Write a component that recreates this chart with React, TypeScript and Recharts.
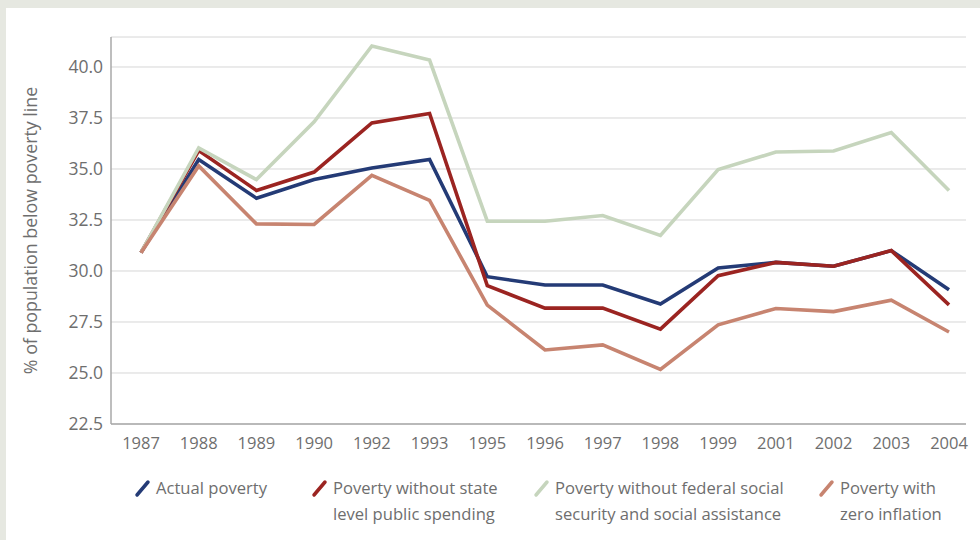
import React from 'react';
import { LineChart, Line, XAxis, YAxis, CartesianGrid, Legend } from 'recharts';

const years = ['1987', '1988', '1989', '1990', '1992', '1993', '1995', '1996', '1997', '1998', '1999', '2001', '2002', '2003', '2004'];
const actualPoverty = [30.9, 35.46, 33.57, 34.48, 35.05, 35.47, 29.72, 29.31, 29.31, 28.38, 30.15, 30.42, 30.23, 31.0, 29.08];
const noStateSpending = [30.9, 35.9, 33.95, 34.85, 37.26, 37.72, 29.28, 28.18, 28.18, 27.15, 29.77, 30.42, 30.23, 31.0, 28.34];
const noFederalSupport = [30.9, 36.03, 34.48, 37.31, 41.03, 40.34, 32.44, 32.44, 32.72, 31.74, 34.97, 35.83, 35.88, 36.79, 33.95];
const zeroInflation = [30.9, 35.15, 32.31, 32.28, 34.69, 33.46, 28.33, 26.13, 26.38, 25.18, 27.36, 28.16, 28.01, 28.57, 27.01];
const yTicks = [22.5, 25, 27.5, 30, 32.5, 35, 37.5, 40];

const series = [
  { key: 'actual', color: '#243b76', lines: ['Actual poverty'] },
  { key: 'state', color: '#9b2421', lines: ['Poverty without state', 'level public spending'] },
  { key: 'federal', color: '#c6d5bd', lines: ['Poverty without federal social', 'security and social assistance'] },
  { key: 'zero', color: '#c78470', lines: ['Poverty with', 'zero inflation'] },
];

const data = years.map((year, i) => ({
  year,
  actual: actualPoverty[i],
  state: noStateSpending[i],
  federal: noFederalSupport[i],
  zero: zeroInflation[i],
}));

const FONT = "'Open Sans', sans-serif";
const TEXT = '#6e6e6e';
// widths of the legend slots, so items start where the original ones do
const legendSlots = [177, 222, 285, 130];

function ChartLegend() {
  return (
    <div style={{ display: 'flex', fontFamily: FONT, fontSize: 16.6, color: TEXT, lineHeight: '26px', whiteSpace: 'nowrap' }}>
      {series.map((s, i) => (
        <div key={s.key} style={{ display: 'flex', alignItems: 'flex-start', width: legendSlots[i], flex: 'none' }}>
          <svg width={19} height={26} style={{ flex: 'none', marginRight: 3 }}>
            <line x1={3} y1={20} x2={14} y2={7} stroke={s.color} strokeWidth={3.5} strokeLinecap="round" />
          </svg>
          <div>
            {s.lines.map((t) => (
              <div key={t}>{t}</div>
            ))}
          </div>
        </div>
      ))}
    </div>
  );
}

export default function App() {
  return (
    <div style={{ position: 'absolute', left: 0, top: 0, width: 980, height: 540, background: '#e6e8e1', overflow: 'hidden', fontFamily: FONT }}>
      <div style={{ position: 'absolute', left: 6, top: 8, right: 0, bottom: 0, background: '#ffffff' }} />
      <div style={{ position: 'absolute', left: 0, top: 0 }}>
        <LineChart width={980} height={540} data={data} margin={{ top: 37, right: 14, bottom: 0, left: 0 }}>
          <CartesianGrid vertical={false} stroke="#d6d6d6" strokeWidth={1} />
          <XAxis
            dataKey="year"
            interval={0}
            height={116}
            padding={{ left: 30, right: 17 }}
            tickLine={false}
            tickMargin={7}
            axisLine={{ stroke: '#a8a8a8', strokeWidth: 1.5 }}
            tick={{ fill: TEXT, fontSize: 16.5, fontFamily: FONT }}
          />
          <YAxis
            width={111}
            domain={[22.5, 41.47]}
            ticks={yTicks}
            allowDataOverflow
            tickLine={false}
            axisLine={{ stroke: '#a8a8a8', strokeWidth: 1.5 }}
            tickFormatter={(v: number) => v.toFixed(1)}
            tick={{ fill: TEXT, fontSize: 17.5, fontFamily: FONT }}
            label={{
              value: '% of population below poverty line',
              angle: -90,
              position: 'insideLeft',
              offset: 31,
              style: { textAnchor: 'middle', fill: TEXT, fontSize: 17.8, fontFamily: FONT },
            }}
          />
          {series.map((s) => (
            <Line
              key={s.key}
              dataKey={s.key}
              type="linear"
              stroke={s.color}
              strokeWidth={3.6}
              dot={false}
              activeDot={false}
              isAnimationActive={false}
            />
          ))}
          <Legend
            verticalAlign="middle"
            layout="horizontal"
            wrapperStyle={{ top: 475, left: 134, width: 840 }}
            content={() => <ChartLegend />}
          />
        </LineChart>
      </div>
    </div>
  );
}
